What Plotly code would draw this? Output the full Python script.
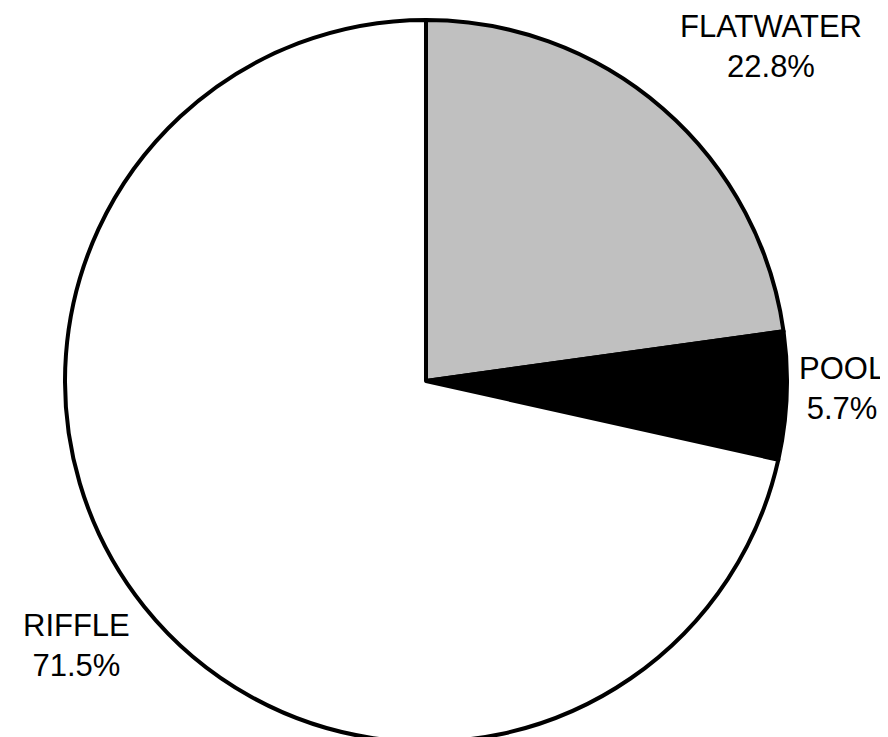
import plotly.graph_objects as go

categories = ["FLATWATER", "POOL", "RIFFLE"]
values = [22.8, 5.7, 71.5]
colors = ["#c0c0c0", "#000000", "#ffffff"]

W, H = 888, 737
cx, cy, r = 418, 373, 361

fig = go.Figure(go.Pie(
    labels=categories,
    values=values,
    sort=False,
    direction="clockwise",
    rotation=0,
    textinfo="none",
    hoverinfo="label+percent",
    marker=dict(colors=colors, line=dict(color="black", width=4)),
    domain=dict(x=[(cx - r) / W, (cx + r) / W], y=[(H - cy - r) / H, (H - cy + r) / H]),
    showlegend=False,
))

label_pos = {"FLATWATER": (763, 39), "POOL": (834, 380), "RIFFLE": (68, 637)}
for cat, val in zip(categories, values):
    px, py = label_pos[cat]
    fig.add_annotation(
        x=px / W, y=1 - py / H, xref="paper", yref="paper",
        text=f"{cat}<br>{val:.1f}%", showarrow=False,
        font=dict(family="Liberation Sans, Arial", size=31, color="black"),
        xanchor="center", yanchor="middle", align="center",
    )

fig.update_layout(
    width=W, height=H,
    margin=dict(l=0, r=0, t=0, b=0),
    paper_bgcolor="white", plot_bgcolor="white",
)

fig.write_html("out.html")
